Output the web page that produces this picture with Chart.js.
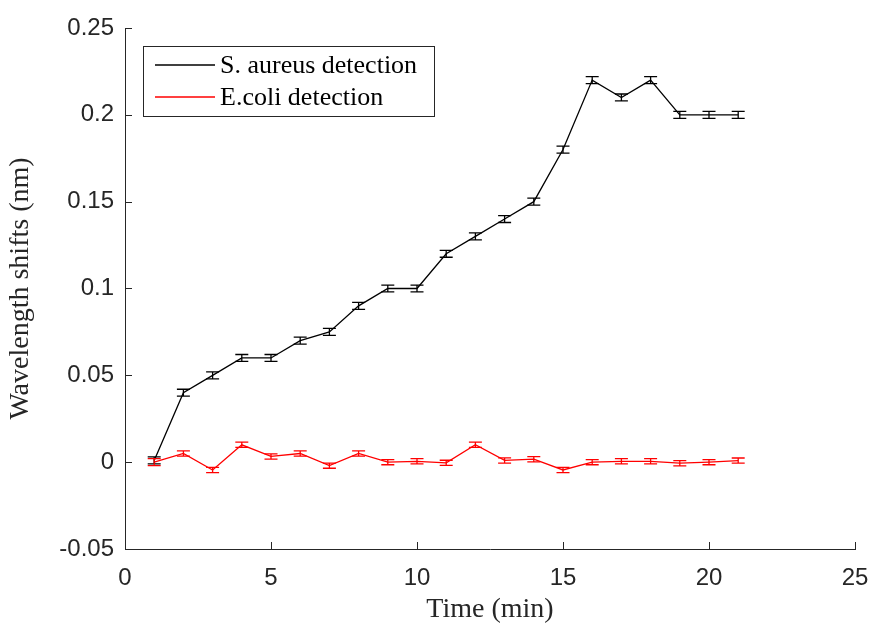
<!DOCTYPE html>
<html>
<head>
<meta charset="utf-8">
<title>Wavelength shifts</title>
<script src="https://cdn.jsdelivr.net/npm/chart.js@4.4.1/dist/chart.umd.min.js"></script>
<style>
  html, body { margin: 0; padding: 0; background: #fff; }
  #wrap { width: 871px; height: 628px; }
</style>
</head>
<body>
<div id="wrap"><canvas id="shiftChart" width="871" height="628"></canvas></div>
<script>
// ---------- Data ----------
const times = [1, 2, 3, 4, 5, 6, 7, 8, 9, 10, 11, 12, 13, 14, 15, 16, 17, 18, 19, 20, 21];
const aureusShift = [0.001, 0.04, 0.05, 0.06, 0.06, 0.07, 0.075, 0.09, 0.1, 0.1, 0.12,
  0.13, 0.14, 0.15, 0.18, 0.22, 0.21, 0.22, 0.2, 0.2, 0.2];
const aureusErr = [0.002, 0.002, 0.002, 0.002, 0.002, 0.002, 0.002, 0.002, 0.002, 0.002, 0.002,
  0.002, 0.002, 0.002, 0.002, 0.002, 0.002, 0.002, 0.002, 0.002, 0.002];
const ecoliShift = [0, 0.005, -0.0045, 0.01, 0.0033, 0.005, -0.002, 0.005, 0, 0.0005, -0.0004,
  0.01, 0.001, 0.0017, -0.0045, 0, 0.0005, 0.0005, -0.0006, 0, 0.0009];
const ecoliErr = [0.002, 0.0015, 0.0015, 0.0015, 0.0015, 0.0015, 0.0015, 0.0015, 0.0015, 0.0015, 0.0015,
  0.0015, 0.0015, 0.0015, 0.0015, 0.0015, 0.0015, 0.0015, 0.0015, 0.0015, 0.0015];
const seriesLabels = ['S. aureus detection', 'E.coli detection'];
const seriesColors = ['#000000', '#ff0000'];
const xTickValues = [0, 5, 10, 15, 20, 25];
const yTickValues = [-0.05, 0, 0.05, 0.1, 0.15, 0.2, 0.25];

const AXIS_COLOR = '#262626';
const SANS = '"Liberation Sans", Arial, sans-serif';
const SERIF = '"Liberation Serif", "Times New Roman", serif';

// ---------- Plugins ----------
// error bars with caps, read from each dataset's err array
const errorBarPlugin = {
  id: 'errorBars',
  afterDatasetsDraw(chart) {
    const ctx = chart.ctx;
    const yScale = chart.scales.y;
    chart.data.datasets.forEach((ds, di) => {
      const meta = chart.getDatasetMeta(di);
      ctx.save();
      ctx.strokeStyle = ds.borderColor;
      ctx.lineWidth = 1.3;
      meta.data.forEach((pt, i) => {
        const v = ds.data[i].y;
        const e = ds.errors[i];
        const yTop = yScale.getPixelForValue(v + e);
        const yBot = yScale.getPixelForValue(v - e);
        const cap = 6.5;
        ctx.beginPath();
        ctx.moveTo(pt.x, yTop); ctx.lineTo(pt.x, yBot);
        ctx.moveTo(pt.x - cap, yTop); ctx.lineTo(pt.x + cap, yTop);
        ctx.moveTo(pt.x - cap, yBot); ctx.lineTo(pt.x + cap, yBot);
        ctx.stroke();
      });
      ctx.restore();
    });
  }
};

// inward tick marks, MATLAB style
const innerTicksPlugin = {
  id: 'innerTicks',
  afterDraw(chart) {
    const ctx = chart.ctx;
    const { x, y } = chart.scales;
    const area = chart.chartArea;
    const len = 7;
    ctx.save();
    ctx.strokeStyle = AXIS_COLOR;
    ctx.lineWidth = 1;
    ctx.beginPath();
    x.ticks.forEach(t => {
      const px = Math.round(x.getPixelForValue(t.value)) + 0.5;
      ctx.moveTo(px, area.bottom); ctx.lineTo(px, area.bottom - len);
    });
    y.ticks.forEach(t => {
      const py = Math.round(y.getPixelForValue(t.value)) + 0.5;
      ctx.moveTo(area.left, py); ctx.lineTo(area.left + len, py);
    });
    ctx.stroke();
    ctx.restore();
  }
};

// boxed legend in the upper left of the plot
const boxLegendPlugin = {
  id: 'boxLegend',
  afterDraw(chart) {
    const ctx = chart.ctx;
    const area = chart.chartArea;
    const left = area.left + 18;
    const top = area.top + 18;
    const w = 291, h = 70;
    ctx.save();
    ctx.fillStyle = '#fff';
    ctx.fillRect(left, top, w, h);
    ctx.strokeStyle = AXIS_COLOR;
    ctx.lineWidth = 1;
    ctx.strokeRect(left + 0.5, top + 0.5, w, h);
    ctx.font = '26px ' + SERIF;
    ctx.textBaseline = 'middle';
    chart.data.datasets.forEach((ds, i) => {
      const ly = top + 19 + i * 32;
      ctx.strokeStyle = ds.borderColor;
      ctx.lineWidth = 1.3;
      ctx.beginPath();
      ctx.moveTo(left + 12, ly); ctx.lineTo(left + 72, ly);
      ctx.stroke();
      ctx.fillStyle = '#000';
      ctx.fillText(ds.label, left + 77, ly + 1);
    });
    ctx.restore();
  }
};

// ---------- Chart ----------
function formatTick(v) {
  const r = parseFloat(Number(v).toFixed(3));
  return r === 0 ? '0' : String(r);
}

function buildSeries(vals) {
  return times.map((t, i) => ({ x: t, y: vals[i] }));
}

const ctx = document.getElementById('shiftChart').getContext('2d');
new Chart(ctx, {
  type: 'line',
  data: {
    datasets: [
      {
        label: seriesLabels[0],
        data: buildSeries(aureusShift),
        errors: aureusErr,
        borderColor: seriesColors[0],
        borderWidth: 1.3,
        pointRadius: 0,
        tension: 0,
        fill: false
      },
      {
        label: seriesLabels[1],
        data: buildSeries(ecoliShift),
        errors: ecoliErr,
        borderColor: seriesColors[1],
        borderWidth: 1.3,
        pointRadius: 0,
        tension: 0,
        fill: false
      }
    ]
  },
  options: {
    responsive: false,
    animation: false,
    devicePixelRatio: 1,
    layout: { padding: { top: 28, right: 16, left: 0, bottom: 0 } },
    plugins: {
      legend: { display: false },
      tooltip: { enabled: false }
    },
    scales: {
      x: {
        type: 'linear',
        min: 0,
        max: 25,
        afterBuildTicks(scale) { scale.ticks = xTickValues.map(v => ({ value: v })); },
        afterFit(scale) {
          scale.height = 79;
          scale.paddingLeft = 0;
          scale.paddingRight = 0;
        },
        grid: { display: false, drawTicks: false },
        border: { display: true, color: AXIS_COLOR, width: 1 },
        ticks: {
          color: AXIS_COLOR,
          font: { family: SANS, size: 24 },
          padding: 15,
          maxRotation: 0,
          callback: formatTick
        },
        title: {
          display: true,
          text: 'Time (min)',
          color: '#262626',
          font: { family: SERIF, size: 28 },
          padding: { top: 0, bottom: 2 }
        }
      },
      y: {
        type: 'linear',
        min: -0.05,
        max: 0.25,
        afterBuildTicks(scale) { scale.ticks = yTickValues.map(v => ({ value: v })); },
        afterFit(scale) {
          scale.width = 125;
          scale.paddingTop = 0;
          scale.paddingBottom = 0;
        },
        grid: { display: false, drawTicks: false },
        border: { display: true, color: AXIS_COLOR, width: 1 },
        ticks: {
          color: AXIS_COLOR,
          font: { family: SANS, size: 24 },
          padding: 11,
          callback: formatTick
        },
        title: {
          display: true,
          text: 'Wavelength shifts (nm)',
          color: '#262626',
          font: { family: SERIF, size: 28 },
          padding: { top: 4, bottom: 0 }
        }
      }
    }
  },
  plugins: [errorBarPlugin, innerTicksPlugin, boxLegendPlugin]
});
</script>
</body>
</html>
